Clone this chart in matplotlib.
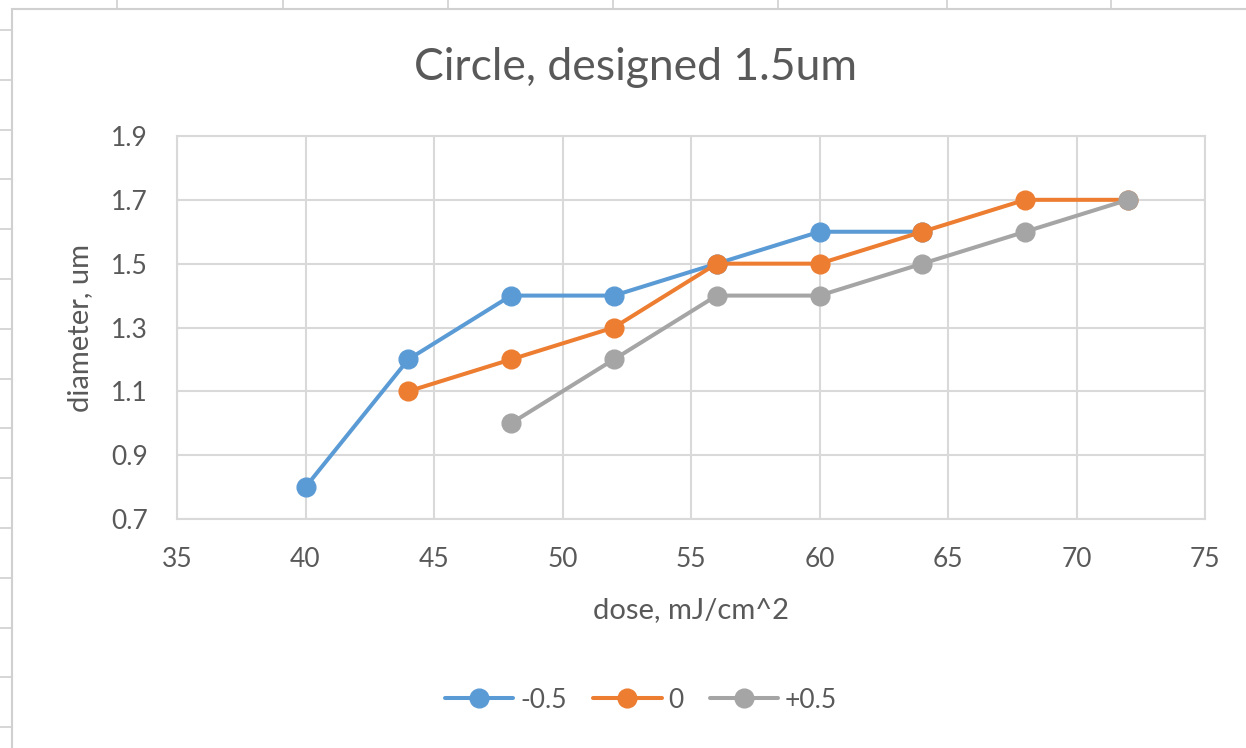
import matplotlib
matplotlib.use("Agg")
import matplotlib.pyplot as plt
from matplotlib.lines import Line2D
from matplotlib.patches import Rectangle

# Data
dose_m05 = [40, 44, 48, 52, 56, 60, 64]
diam_m05 = [0.8, 1.2, 1.4, 1.4, 1.5, 1.6, 1.6]
dose_0 = [44, 48, 52, 56, 60, 64, 68, 72]
diam_0 = [1.1, 1.2, 1.3, 1.5, 1.5, 1.6, 1.7, 1.7]
dose_p05 = [48, 52, 56, 60, 64, 68, 72]
diam_p05 = [1.0, 1.2, 1.4, 1.4, 1.5, 1.6, 1.7]
labels = ["-0.5", "0", "+0.5"]
colors = ["#5B9BD5", "#ED7D31", "#A5A5A5"]
x_ticks = [35, 40, 45, 50, 55, 60, 65, 70, 75]
y_ticks = [0.7, 0.9, 1.1, 1.3, 1.5, 1.7, 1.9]

plt.rcParams['font.family'] = ['Lato', 'DejaVu Sans']
TXT = "#595959"
GRID = "#D9D9D9"

W, H = 1246, 748
fig = plt.figure(figsize=(W / 100, H / 100), dpi=100)
fig.patch.set_facecolor("white")

def fx(px):
    return px / W

def fy(py):
    return 1 - py / H

# spreadsheet cell lines outside the chart
for cx in [117, 283, 448, 613, 778, 947, 1111]:
    fig.add_artist(Line2D([fx(cx), fx(cx)], [fy(0), fy(9)], color="#D0D0D0", lw=1.2))
for k in range(15):
    ry = 30 + 49.8 * k
    fig.add_artist(Line2D([fx(0), fx(12)], [fy(ry), fy(ry)], color="#D0D0D0", lw=1.2))
# chart area border
fig.add_artist(Rectangle((fx(12), fy(800)), fx(1300), fy(9) - fy(800),
                         fill=False, edgecolor="#D0D0D0", lw=1.5))

ax = fig.add_axes([fx(177), fy(519), fx(1205) - fx(177), fy(136) - fy(519)])
series = [(dose_m05, diam_m05), (dose_0, diam_0), (dose_p05, diam_p05)]
for (xs, ys), lab, c in zip(series, labels, colors):
    ax.plot(xs, ys, color=c, lw=2.9, marker="o", markersize=13.5, label=lab,
            solid_capstyle="round", zorder=3)

ax.set_xlim(35, 75)
ax.set_ylim(0.7, 1.9)
ax.set_xticks(x_ticks)
ax.set_yticks(y_ticks)
ax.set_yticklabels([f"{v:.1f}" for v in y_ticks])
ax.grid(True, color=GRID, lw=1.5)
ax.set_axisbelow(True)
for s in ax.spines.values():
    s.set_color(GRID)
    s.set_linewidth(1.5)
ax.tick_params(length=0, labelsize=19, colors=TXT)
ax.tick_params(axis="x", pad=20)
ax.tick_params(axis="y", pad=21)

fig.text(fx(636), fy(68), "Circle, designed 1.5um", ha="center", va="center",
         fontsize=32, color=TXT)
fig.text(fx(691), fy(610), "dose, mJ/cm^2", ha="center", va="center",
         fontsize=21, color=TXT)
fig.text(fx(80), fy(328), "diameter, um", ha="center", va="center",
         fontsize=21, color=TXT, rotation=90)

ax.legend(loc="center", bbox_to_anchor=(fx(641), fy(700)), bbox_transform=fig.transFigure,
          ncol=3, frameon=False, fontsize=19, labelcolor=TXT, handlelength=2.6,
          handletextpad=0.25, columnspacing=1.0, markerscale=1.0)

fig.savefig("out.png", dpi=100, facecolor="white")
